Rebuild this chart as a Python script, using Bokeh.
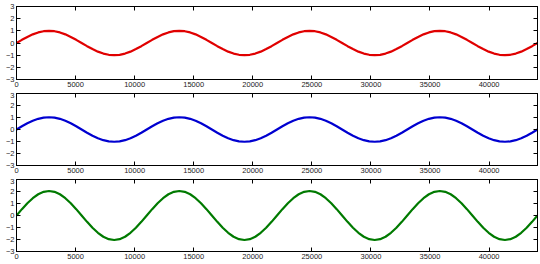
from bokeh.plotting import figure
from bokeh.layouts import column
from bokeh.models import LinearAxis, FixedTicker, Range1d
from bokeh.embed import file_html
from bokeh.resources import INLINE

# sample positions (audio sample index), evenly spaced every 459.375 samples
sample_step = 459.375
x = [round(i * sample_step) for i in range(97)]

red = [
    0.00, 0.26, 0.50, 0.71, 0.87, 0.97, 1.00, 0.97, 0.87, 0.71, 0.50, 0.26,
    0.00, -0.26, -0.50, -0.71, -0.87, -0.97, -1.00, -0.97, -0.87, -0.71, -0.50, -0.26,
    0.00, 0.26, 0.50, 0.71, 0.87, 0.97, 1.00, 0.97, 0.87, 0.71, 0.50, 0.26,
    0.00, -0.26, -0.50, -0.71, -0.87, -0.97, -1.00, -0.97, -0.87, -0.71, -0.50, -0.26,
    0.00, 0.26, 0.50, 0.71, 0.87, 0.97, 1.00, 0.97, 0.87, 0.71, 0.50, 0.26,
    0.00, -0.26, -0.50, -0.71, -0.87, -0.97, -1.00, -0.97, -0.87, -0.71, -0.50, -0.26,
    0.00, 0.26, 0.50, 0.71, 0.87, 0.97, 1.00, 0.97, 0.87, 0.71, 0.50, 0.26,
    0.00, -0.26, -0.50, -0.71, -0.87, -0.97, -1.00, -0.97, -0.87, -0.71, -0.50, -0.26,
    0.00,
]
blue = [
    0.00, 0.27, 0.52, 0.73, 0.89, 0.99, 1.02, 0.99, 0.89, 0.73, 0.52, 0.27,
    0.00, -0.27, -0.52, -0.73, -0.89, -0.99, -1.02, -0.99, -0.89, -0.73, -0.52, -0.27,
    0.00, 0.27, 0.52, 0.73, 0.89, 0.99, 1.02, 0.99, 0.89, 0.73, 0.52, 0.27,
    0.00, -0.27, -0.52, -0.73, -0.89, -0.99, -1.02, -0.99, -0.89, -0.73, -0.52, -0.27,
    0.00, 0.27, 0.52, 0.73, 0.89, 0.99, 1.02, 0.99, 0.89, 0.73, 0.52, 0.27,
    0.00, -0.27, -0.52, -0.73, -0.89, -0.99, -1.02, -0.99, -0.89, -0.73, -0.52, -0.27,
    0.00, 0.27, 0.52, 0.73, 0.89, 0.99, 1.02, 0.99, 0.89, 0.73, 0.52, 0.27,
    0.00, -0.27, -0.52, -0.73, -0.89, -0.99, -1.02, -0.99, -0.89, -0.73, -0.52, -0.27,
    0.00,
]
green = [
    0.00, 0.53, 1.02, 1.44, 1.77, 1.97, 2.04, 1.97, 1.77, 1.44, 1.02, 0.53,
    0.00, -0.53, -1.02, -1.44, -1.77, -1.97, -2.04, -1.97, -1.77, -1.44, -1.02, -0.53,
    0.00, 0.53, 1.02, 1.44, 1.77, 1.97, 2.04, 1.97, 1.77, 1.44, 1.02, 0.53,
    0.00, -0.53, -1.02, -1.44, -1.77, -1.97, -2.04, -1.97, -1.77, -1.44, -1.02, -0.53,
    0.00, 0.53, 1.02, 1.44, 1.77, 1.97, 2.04, 1.97, 1.77, 1.44, 1.02, 0.53,
    0.00, -0.53, -1.02, -1.44, -1.77, -1.97, -2.04, -1.97, -1.77, -1.44, -1.02, -0.53,
    0.00, 0.53, 1.02, 1.44, 1.77, 1.97, 2.04, 1.97, 1.77, 1.44, 1.02, 0.53,
    0.00, -0.53, -1.02, -1.44, -1.77, -1.97, -2.04, -1.97, -1.77, -1.44, -1.02, -0.53,
    0.00,
]

x_ticks = [0, 5000, 10000, 15000, 20000, 25000, 30000, 35000, 40000]
y_ticks = [-3, -2, -1, 0, 1, 2, 3]
x_max = 44100

FONT = "Liberation Sans"


def style_axis(ax, labels=True):
    ax.major_tick_in = 4
    ax.major_tick_out = 0
    ax.minor_tick_line_color = None
    ax.axis_line_color = "black"
    ax.major_tick_line_color = "black"
    if labels:
        ax.major_label_text_font = FONT
        ax.major_label_text_font_size = "7.5px"
        ax.major_label_text_color = "#222222"
        ax.major_label_standoff = 2
    else:
        ax.major_label_text_font_size = "1px"
        ax.major_label_text_color = None
        ax.major_label_standoff = 0


def make_panel(ys, color, top_border, height):
    p = figure(width=540, height=height, output_backend="svg", toolbar_location=None,
               x_range=Range1d(0, x_max), y_range=Range1d(-3, 3),
               min_border_left=16, min_border_right=3,
               min_border_top=top_border, min_border_bottom=13,
               x_axis_location=None, y_axis_location=None)
    p.xgrid.grid_line_color = None
    p.ygrid.grid_line_color = None
    p.outline_line_color = "black"
    p.outline_line_alpha = 1.0
    p.background_fill_color = "white"
    p.border_fill_color = "white"

    xb = LinearAxis(ticker=FixedTicker(ticks=x_ticks))
    style_axis(xb)
    p.add_layout(xb, "below")
    yl = LinearAxis(ticker=FixedTicker(ticks=y_ticks))
    style_axis(yl)
    p.add_layout(yl, "left")
    xt = LinearAxis(ticker=FixedTicker(ticks=x_ticks))
    style_axis(xt, labels=False)
    p.add_layout(xt, "above")
    yr = LinearAxis(ticker=FixedTicker(ticks=y_ticks))
    style_axis(yr, labels=False)
    p.add_layout(yr, "right")

    p.line(x, ys, line_color=color, line_width=2.2)
    return p


p1 = make_panel(red, "#e00000", 6, 92)
p2 = make_panel(blue, "#0000d0", 1, 86)
p3 = make_panel(green, "#007a00", 1, 86)

layout = column(p1, p2, p3, spacing=0)
open("out.html", "w").write(file_html(layout, INLINE))
